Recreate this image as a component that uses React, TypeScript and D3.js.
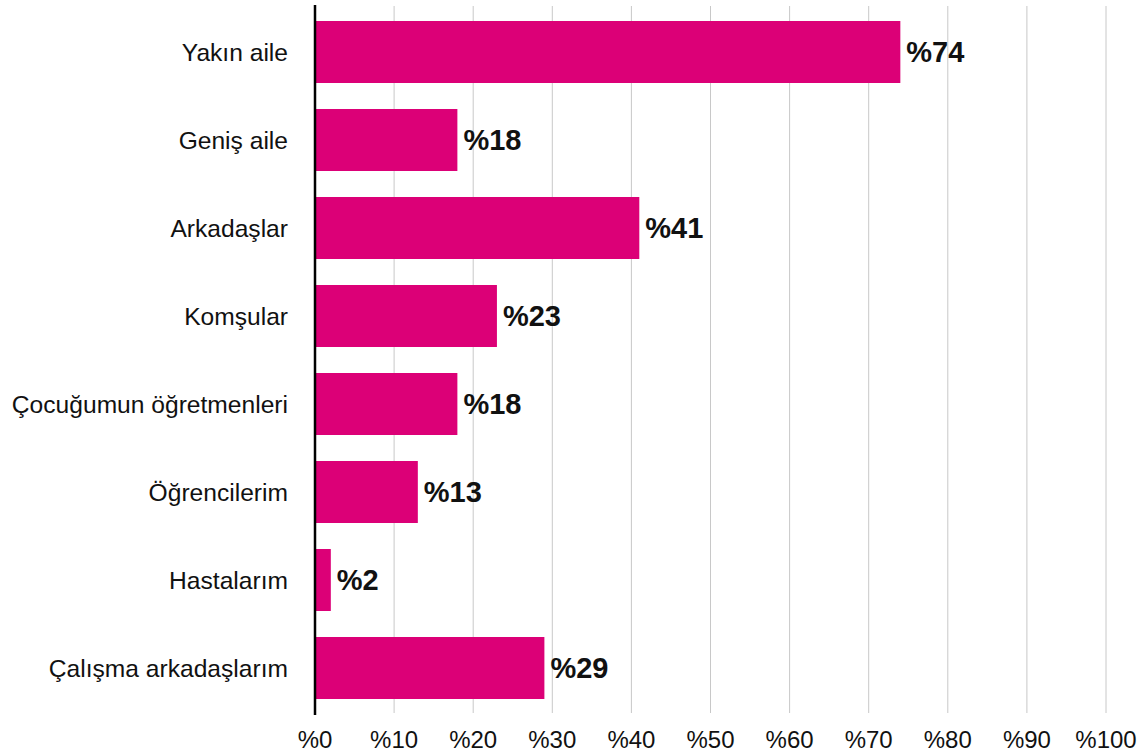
import React from "react";
import * as d3 from "d3";

const categories = [
  "Yakın aile",
  "Geniş aile",
  "Arkadaşlar",
  "Komşular",
  "Çocuğumun öğretmenleri",
  "Öğrencilerim",
  "Hastalarım",
  "Çalışma arkadaşlarım",
];
const values = [74, 18, 41, 23, 18, 13, 2, 29];
const ticks = [0, 10, 20, 30, 40, 50, 60, 70, 80, 90, 100];

const W = 1146;
const H = 753;
const FONT = "'Liberation Sans', Arial, Helvetica, sans-serif";
const COLOR = "#DC0077";

export default function App() {
  const x = d3.scaleLinear().domain([0, 100]).range([315, 1106]);
  const y = d3
    .scaleBand<string>()
    .domain(categories)
    .range([8, 712])
    .paddingInner(0.2955)
    .paddingOuter(0.1477);

  return (
    <svg
      width={W}
      height={H}
      style={{ position: "absolute", left: 0, top: 0, background: "#fff" }}
      fontFamily={FONT}
    >
      {ticks.map((t) =>
        t === 0 ? null : (
          <line
            key={"g" + t}
            x1={x(t)}
            x2={x(t)}
            y1={6}
            y2={713}
            stroke="#c8c8c8"
            strokeWidth={1}
          />
        )
      )}
      {categories.map((c, i) => (
        <g key={c}>
          <rect
            x={x(0)}
            y={y(c)}
            width={x(values[i]) - x(0)}
            height={y.bandwidth()}
            fill={COLOR}
          />
          <text
            x={288}
            y={(y(c) as number) + y.bandwidth() / 2}
            dy="0.35em"
            textAnchor="end"
            fontSize={24.6}
            fill="#111"
          >
            {c}
          </text>
          <text
            x={x(values[i]) + 6}
            y={(y(c) as number) + y.bandwidth() / 2}
            dy="0.36em"
            textAnchor="start"
            fontSize={29}
            fontWeight="bold"
            fill="#111"
          >
            {"%" + values[i]}
          </text>
        </g>
      ))}
      <line x1={x(0)} x2={x(0)} y1={5} y2={715} stroke="#000" strokeWidth={2.5} />
      {ticks.map((t) => (
        <text
          key={"t" + t}
          x={x(t)}
          y={748}
          textAnchor="middle"
          fontSize={24}
          fill="#111"
        >
          {"%" + t}
        </text>
      ))}
    </svg>
  );
}
